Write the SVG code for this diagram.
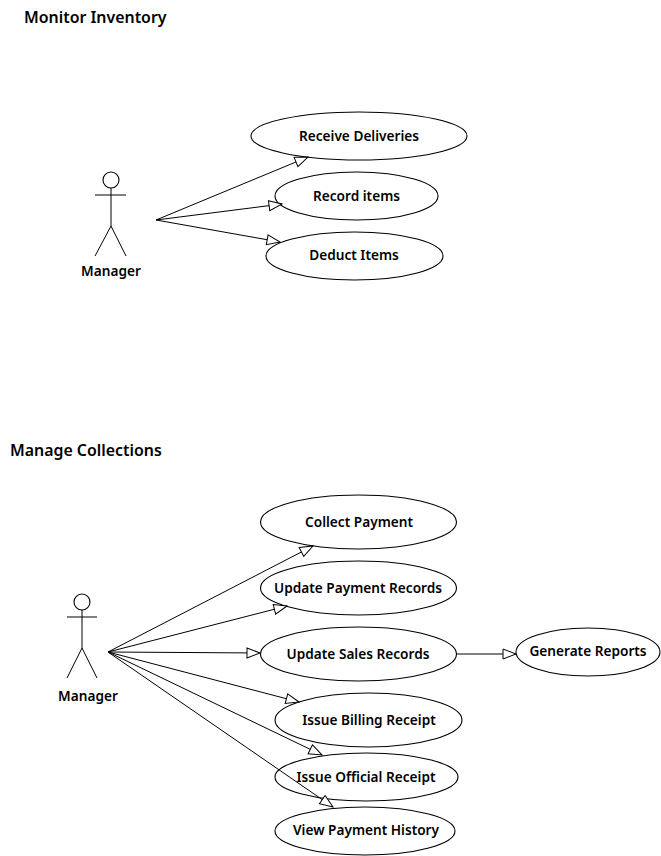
<svg xmlns="http://www.w3.org/2000/svg" width="661" height="856" viewBox="0 0 661 856">
<style>
text{font-family:"Noto Sans","Open Sans","Liberation Sans",sans-serif;font-weight:600;fill:#000}
.t{font-size:15.9px}
.l{font-size:13.65px;text-anchor:middle}
ellipse,circle{fill:#fff;stroke:#000;stroke-width:1.1}
.a line{stroke:#000;stroke-width:1}
.c line{stroke:#000;stroke-width:1;marker-end:url(#h)}
</style>
<defs>
<marker id="h" markerUnits="userSpaceOnUse" markerWidth="16" markerHeight="14" refX="14" refY="6" orient="auto">
<path d="M1 1 L14 6 L1 11 Z" fill="#fff" stroke="#000" stroke-width="1"/>
</marker>
</defs>
<text class="t" x="24" y="23">Monitor Inventory</text>
<text class="t" x="10" y="456">Manage Collections</text>
<g id="actor1" class="a"><circle cx="111" cy="180" r="8"/><line x1="95" y1="195" x2="126" y2="195"/><line x1="111" y1="188" x2="111" y2="226"/><line x1="111" y1="226" x2="95" y2="256"/><line x1="111" y1="226" x2="126" y2="256"/><text class="l" x="111" y="276">Manager</text></g>
<g id="receive"><ellipse cx="359" cy="136" rx="108" ry="24"/><text class="l" x="359" y="141">Receive Deliveries</text></g>
<g id="record"><ellipse cx="356.500" cy="196" rx="81.500" ry="24"/><text class="l" x="356.500" y="201">Record items</text></g>
<g id="deduct"><ellipse cx="354.500" cy="256" rx="88.500" ry="24"/><text class="l" x="354" y="260">Deduct Items</text></g>
<g id="actor2" class="a"><circle cx="82" cy="602" r="8"/><line x1="67" y1="617" x2="97" y2="617"/><line x1="82" y1="610" x2="82" y2="648"/><line x1="82" y1="648" x2="67" y2="678"/><line x1="82" y1="648" x2="97" y2="678"/><text class="l" x="88" y="701">Manager</text></g>
<g id="collect"><ellipse cx="358.500" cy="522" rx="98" ry="27"/><text class="l" x="359" y="527">Collect Payment</text></g>
<g id="updatepay"><ellipse cx="358.500" cy="588" rx="98" ry="27"/><text class="l" x="358" y="593">Update Payment Records</text></g>
<g id="updatesales"><ellipse cx="358.500" cy="654" rx="98" ry="27"/><text class="l" x="358" y="659">Update Sales Records</text></g>
<g id="reports"><ellipse cx="588" cy="652" rx="72" ry="24"/><text class="l" x="588" y="656">Generate Reports</text></g>
<g id="billing"><ellipse cx="368.500" cy="720" rx="93.500" ry="27"/><text class="l" x="369" y="725">Issue Billing Receipt</text></g>
<g id="official"><ellipse cx="366.500" cy="777" rx="91.500" ry="24"/><text class="l" x="366" y="782">Issue Official Receipt</text></g>
<g id="history"><ellipse cx="365" cy="831" rx="90" ry="24"/><text class="l" x="366" y="835">View Payment History</text></g>
<g id="connectors" class="c">
<line x1="156" y1="220" x2="308" y2="157"/>
<line x1="156" y1="220" x2="282" y2="204"/>
<line x1="156" y1="220" x2="280" y2="242"/>
<line x1="108" y1="652" x2="313" y2="546"/>
<line x1="108" y1="652" x2="287" y2="606"/>
<line x1="108" y1="652" x2="260" y2="653"/>
<line x1="108" y1="652" x2="299" y2="702"/>
<line x1="108" y1="652" x2="322" y2="755"/>
<line x1="108" y1="652" x2="333" y2="807"/>
<line x1="457" y1="654" x2="516" y2="654"/>
</g>
</svg>
